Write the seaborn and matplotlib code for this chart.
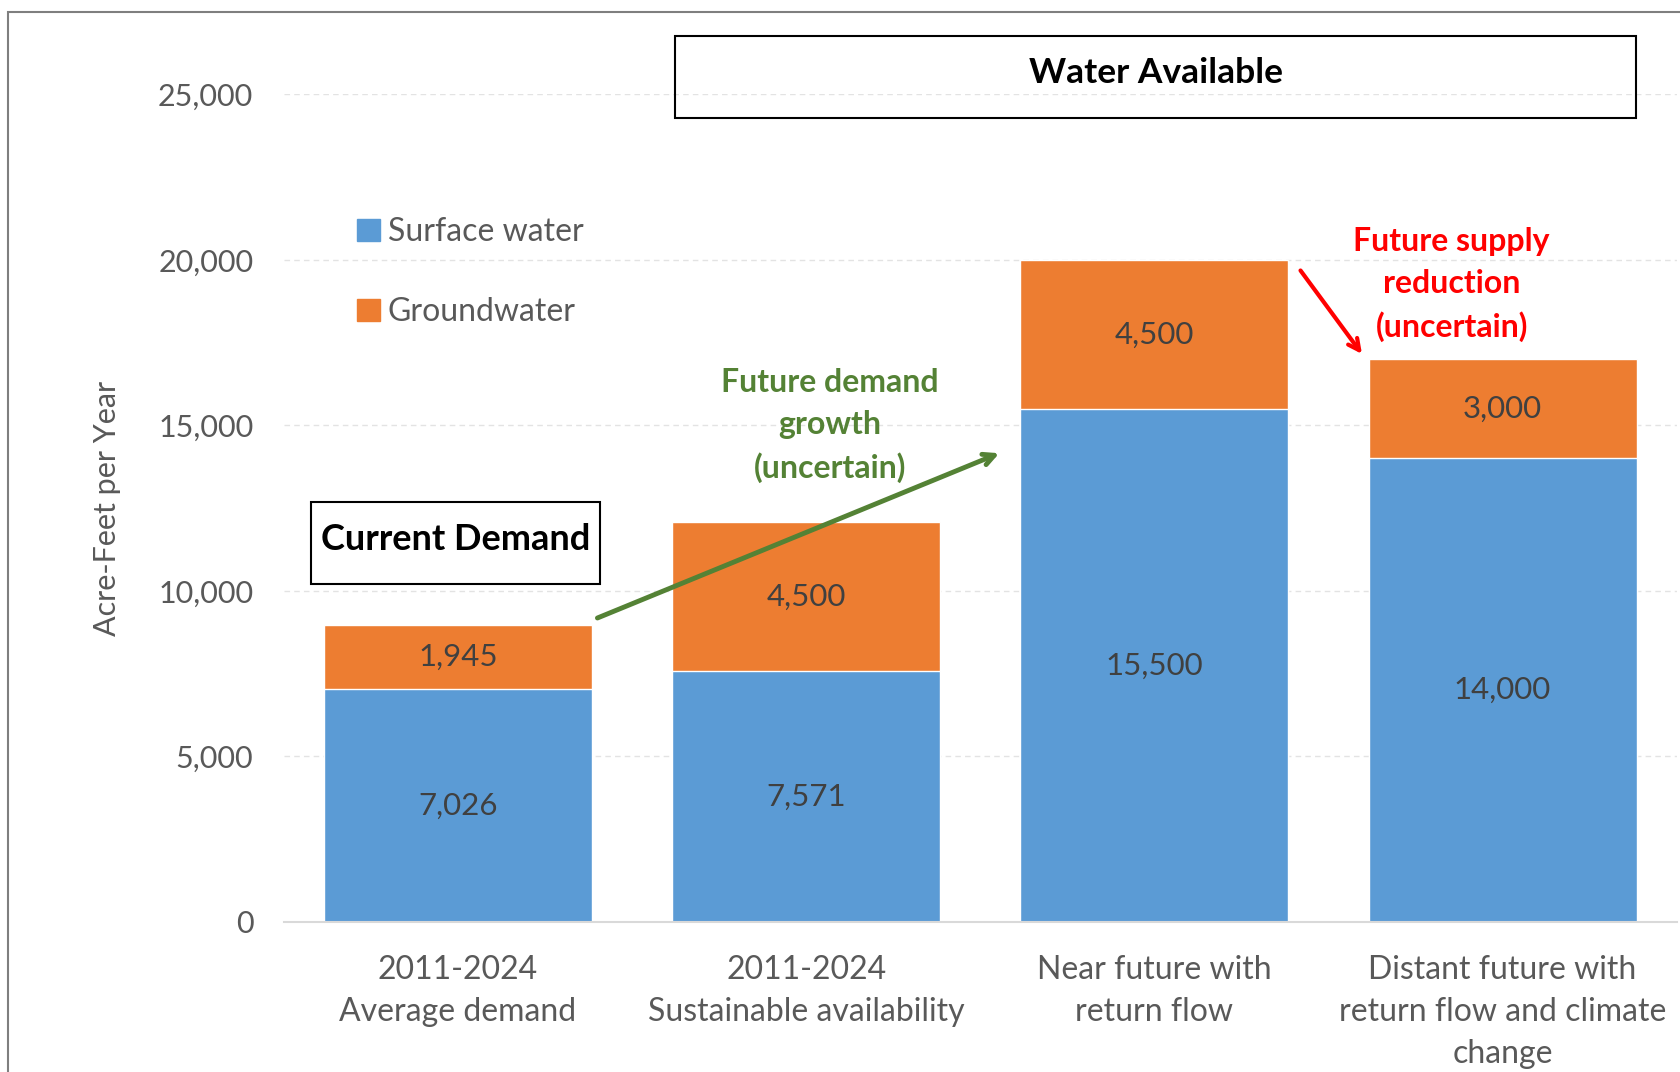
import seaborn as sns
import matplotlib.pyplot as plt
from matplotlib.patches import Patch, Rectangle

# chart data
categories = ["2011-2024\nAverage demand", "2011-2024\nSustainable availability",
              "Near future with\nreturn flow", "Distant future with\nreturn flow and climate\nchange"]
surface_water = [7026, 7571, 15500, 14000]
groundwater = [1945, 4500, 4500, 3000]
y_ticks = [0, 5000, 10000, 15000, 20000, 25000]

blue = "#5B9BD5"
orange = "#ED7D31"
grey_text = "#595959"

sns.set_style("white")
plt.rcParams["font.family"] = ["Lato", "DejaVu Sans"]

fig = plt.figure(figsize=(16.8, 10.72), dpi=100)
ax = fig.add_axes([0.169, 0.140, 0.829, 0.772])

totals = [s + g for s, g in zip(surface_water, groundwater)]
sns.barplot(x=categories, y=totals, color=orange, width=0.77, saturation=1, ax=ax)
sns.barplot(x=categories, y=surface_water, color=blue, width=0.77, saturation=1, ax=ax)

ax.set_ylim(0, 25000)
ax.set_xlim(-0.5, 3.5)
ax.set_yticks(y_ticks)
ax.set_yticklabels([f"{v:,}" for v in y_ticks])
ax.yaxis.grid(True, color="#E3E3E3", linestyle=(0, (4, 3)), linewidth=1)
ax.set_axisbelow(True)
for side in ["top", "right", "left"]:
    ax.spines[side].set_visible(False)
ax.spines["bottom"].set_color("#D9D9D9")
ax.spines["bottom"].set_linewidth(1.5)
ax.tick_params(axis="x", length=0, labelsize=23, colors=grey_text, pad=24)
ax.tick_params(axis="y", length=0, labelsize=22, colors=grey_text, pad=22)
ax.set_ylabel("Acre-Feet per Year", fontsize=22, color=grey_text, labelpad=27)
ax.set_xlabel("")
for lbl in ax.get_xticklabels():
    lbl.set_linespacing(1.5)
    lbl.set_verticalalignment("top")

# value labels in the middle of each segment
for i, (s, g) in enumerate(zip(surface_water, groundwater)):
    ax.text(i, s / 2, f"{s:,}", ha="center", va="center", fontsize=22.5, color="#404040")
    ax.text(i, s + g / 2, f"{g:,}", ha="center", va="center", fontsize=22.5, color="#404040")

# legend
handles = [Patch(color=blue, label="Surface water"), Patch(color=orange, label="Groundwater")]
ax.legend(handles=handles, loc="upper left", bbox_to_anchor=(0.032, 0.886), frameon=False,
          fontsize=23, labelcolor=grey_text, handlelength=0.7, handleheight=0.7,
          handletextpad=0.25, labelspacing=1.55)

# annotations
ax.annotate("", xy=(1.562, 14191), xytext=(0.393, 9149),
            arrowprops=dict(arrowstyle="->,head_length=0.8,head_width=0.4", color="#548235", lw=3.5))
ax.text(1.068, 15000, "Future demand\ngrowth\n(uncertain)", ha="center", va="center",
        fontsize=23, fontweight="bold", color="#548235", linespacing=1.52)
ax.annotate("", xy=(2.601, 17089), xytext=(2.415, 19746),
            arrowprops=dict(arrowstyle="->,head_length=0.8,head_width=0.4", color="#FF0000", lw=3))
ax.text(2.854, 19250, "Future supply\nreduction\n(uncertain)", ha="center", va="center",
        fontsize=23, fontweight="bold", color="#FF0000", linespacing=1.52)

# boxed titles
fig.patches.append(Rectangle((0.402, 0.890), 0.572, 0.076, transform=fig.transFigure,
                             fill=False, edgecolor="black", linewidth=1.5))
fig.text(0.402 + 0.286, 0.932, "Water Available", ha="center", va="center",
         fontsize=25.5, fontweight="bold", color="black")
fig.patches.append(Rectangle((0.185, 0.455), 0.172, 0.0765, transform=fig.transFigure,
                             fill=False, edgecolor="black", linewidth=1.5))
fig.text(0.185 + 0.086, 0.497, "Current Demand", ha="center", va="center",
         fontsize=26, fontweight="bold", color="black")

# outer border
fig.patches.append(Rectangle((0.005, -0.01), 1.0, 0.9985, transform=fig.transFigure,
                             fill=False, edgecolor="#7F7F7F", linewidth=1.5))

fig.savefig("out.png", dpi=100)
